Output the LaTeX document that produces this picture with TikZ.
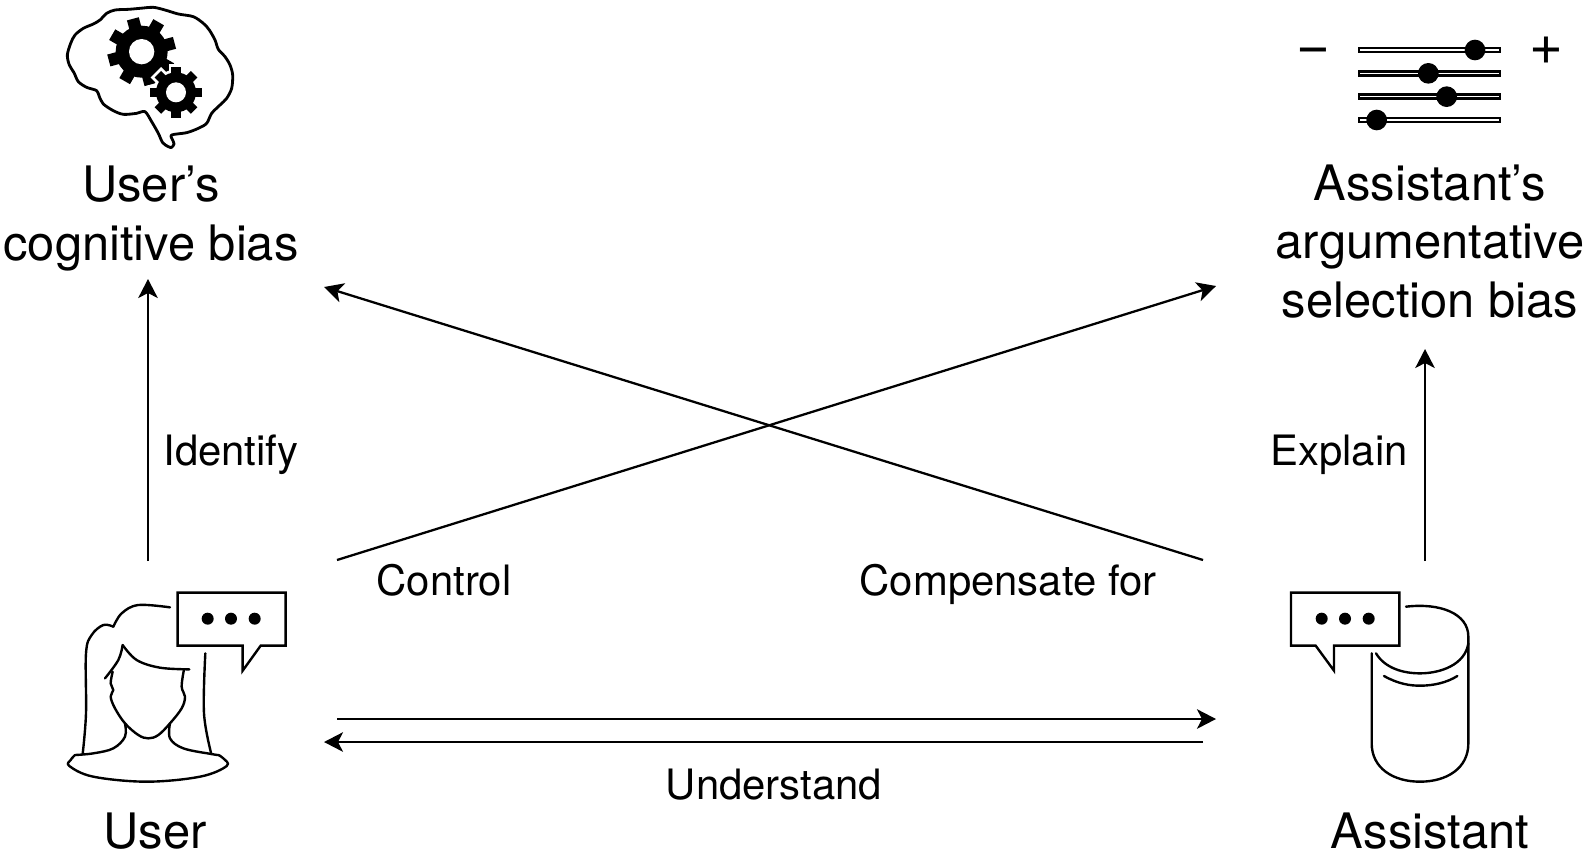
\documentclass[tikz,border=0pt]{standalone}
\usepackage{fontspec}
\usetikzlibrary{arrows.meta}
\setmainfont{TeX Gyre Heros}
\tikzset{
  biglabel/.style={anchor=base,align=center,font=\fontsize{13.9}{16.5}\selectfont},
  smalllabel/.style={anchor=base,font=\fontsize{11.9}{14}\selectfont},
  signlabel/.style={anchor=base,font=\fontsize{16.5}{18}\selectfont},
  conn/.style={-{Stealth[length=1.9mm,width=1.95mm,inset=0.5mm]},line width=0.65pt},
  iconline/.style={line width=0.68pt,line cap=round,line join=round},
}
% one gear: centre, body radius, tooth radius, hole radius, phase
\newcommand{\gearshape}[6]{
  \foreach \a in {0,45,...,315} {
    \fill[#6,rotate around={#5+\a:(#1,#2)}] (#1+#3-6,#2-#4*0.18) rectangle (#1+#4,#2+#4*0.18);
  }
  \fill[#6] (#1,#2) circle (#3);
}
% speech bubble in zoomed units: outline path, first dot
\newcommand{\speechbox}[2]{
  \draw[iconline,fill=white,line join=miter] #1 -- cycle;
  \foreach \d in {0,70,141} \fill (#2+\d,116) circle (18);
}
\begin{document}
\begin{tikzpicture}[x=0.01cm,y=-0.01cm]
  \useasboundingbox (0,0) rectangle (1586,854);

  % Labels
  \node[biglabel] (userbias) at (151,260) {User’s\\cognitive bias};
  \node[biglabel] (assistbias) at (1430,317) {Assistant’s\\argumentative\\selection bias};
  \node[biglabel] (user) at (155,848) {User};
  \node[biglabel] (assist) at (1430,848) {Assistant};
  \node[smalllabel] (identify) at (231,465) {Identify};
  \node[smalllabel] (explain) at (1339,465) {Explain};
  \node[smalllabel] (control) at (444,595) {Control};
  \node[smalllabel] (compensate) at (1008,595) {Compensate for};
  \node[smalllabel] (understand) at (774,799) {Understand};

  % Connector ends
  \coordinate (ustart) at (148,561);
  \coordinate (uend) at (148,279);
  \coordinate (astart) at (1425,561);
  \coordinate (aend) at (1425,349);
  \coordinate (crossA) at (337,560);
  \coordinate (crossB) at (1216,286);
  \coordinate (crossC) at (1203,560);
  \coordinate (crossD) at (324,287);
  \coordinate (talkA) at (337,719);
  \coordinate (talkB) at (1216,719);
  \coordinate (talkC) at (1203,742);
  \coordinate (talkD) at (324,742);

  % Arrows
  \draw[conn] (ustart) -- (uend);
  \draw[conn] (astart) -- (aend);
  \draw[conn] (crossA) -- (crossB);
  \draw[conn] (crossC) -- (crossD);
  \draw[conn] (talkA) -- (talkB);
  \draw[conn] (talkC) -- (talkD);

  % Brain
  \begin{scope}[shift={(50,0)},scale=1/3]
    \draw[iconline,line width=0.8pt] plot[smooth cycle,tension=0.5] coordinates {(355,440) (338,428) (325,400) (305,365) (285,335) (260,340) (220,343) (190,332) (160,312) (148,290) (140,272) (110,262) (85,245) (72,218) (58,195) (52,165) (62,130) (75,105) (100,85) (130,72) (150,60) (170,40) (195,30) (235,28) (270,25) (310,22) (345,30) (385,42) (430,50) (460,70) (478,90) (495,120) (505,148) (525,170) (540,195) (548,225) (545,265) (530,295) (510,315) (485,340) (470,370) (445,385) (410,398) (365,405) (368,420) (372,432) (365,442)};
    \gearshape{275}{155}{78}{102}{15}{black}
    \fill[white] (275,155) circle (38);
    \foreach \a in {0,45,...,315} {
      \draw[white,line width=1.6pt,rotate around={\a:(378,277)}] (378+60-6,277-14) rectangle (378+77,277+14);
    }
    \draw[white,line width=1.6pt] (378,277) circle (60);
    \gearshape{378}{277}{60}{77}{0}{black}
    \fill[white] (378,277) circle (30);
  \end{scope}

  % Sliders
  \begin{scope}[shift={(1280,20)},scale=1/3]
    \foreach \yy/\kx in {90/585,160/445,230/500,300/290} {
      \draw[line width=0.68pt,fill=white] (237,\yy-6) rectangle (659,\yy+6);
      \fill (\kx,\yy) circle (31);
    }
  \end{scope}
  \node[signlabel] (minus) at (1313,64) {−};
  \node[signlabel] (plus) at (1546,64) {+};

  % User
  \begin{scope}[shift={(50,580)},scale=1/3]
    \draw[iconline] plot[smooth,tension=0.6] coordinates {(360,82) (265,75) (215,100) (190,140)};
    \draw[iconline] plot[smooth,tension=0.6] coordinates {(190,140) (160,135) (125,165) (108,220) (108,400) (98,522)};
    \draw[iconline] plot[smooth,tension=0.6] coordinates {(466,220) (462,400) (484,522)};
    \draw[iconline] plot[smooth,tension=0.6] coordinates {(218,195) (260,240) (330,263) (418,268)};
    \draw[iconline] plot[smooth,tension=0.6] coordinates {(218,195) (205,240) (165,295)};
    \draw[iconline] plot[smooth,tension=0.6] coordinates {(188,275) (182,310) (190,330) (182,350) (195,385) (225,430) (265,465) (295,475) (325,465) (360,430) (395,385) (405,350) (395,320) (402,268)};
    \draw[iconline] plot[smooth,tension=0.6] coordinates {(225,430) (225,470) (190,505) (130,520) (75,525)};
    \draw[iconline] plot[smooth,tension=0.6] coordinates {(360,430) (360,475) (400,505) (484,522) (505,525)};
    \draw[iconline] plot[smooth,tension=0.6] coordinates {(75,525) (62,540) (58,558) (130,590) (290,605) (450,590) (530,558) (520,535) (505,525)};
    \speechbox{(383,38) -- (707,38) -- (707,197) -- (632,197) -- (578,272) -- (578,197) -- (383,197)}{473}
  \end{scope}

  % Assistant
  \begin{scope}[shift={(1270,580)},scale=1/3]
    \draw[iconline] (408,80) .. controls (510,68) and (595,100) .. (595,170) -- (595,490) .. controls (595,565) and (530,605) .. (450,605) .. controls (370,605) and (305,565) .. (305,490) -- (305,220);
    \draw[iconline] (318,220) .. controls (345,265) and (400,280) .. (450,280) .. controls (510,280) and (585,255) .. (595,190);
    \draw[iconline] (342,288) .. controls (385,312) and (420,317) .. (450,317) .. controls (490,317) and (530,308) .. (562,288);
    \speechbox{(63,38) -- (388,38) -- (388,197) -- (192,197) -- (192,272) -- (137,197) -- (63,197)}{155}
  \end{scope}
\end{tikzpicture}
\end{document}
